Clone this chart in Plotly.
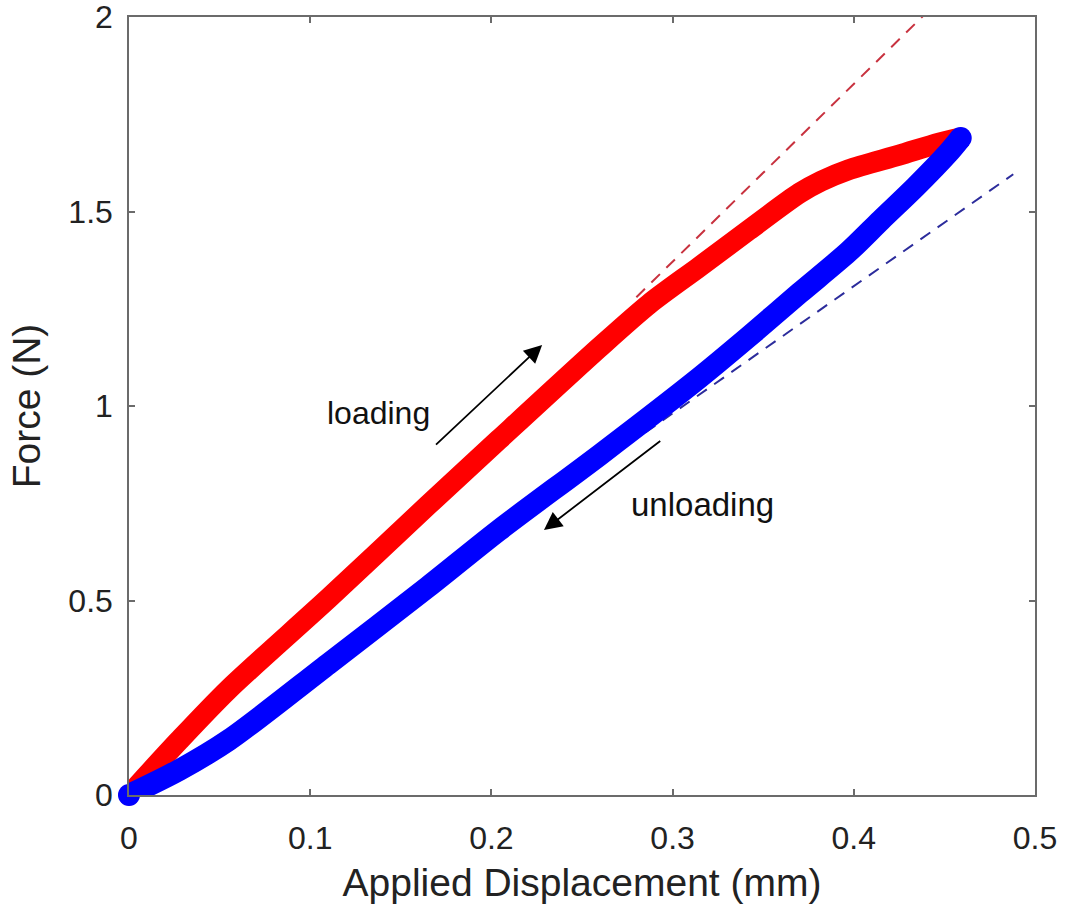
import plotly.graph_objects as go

# Loading curve (red)
load_x = [0.0, 0.0276, 0.055, 0.110, 0.165, 0.204, 0.2595, 0.287, 0.3146,
          0.342, 0.370, 0.382, 0.397, 0.425, 0.447, 0.459]
load_y = [0.0, 0.140, 0.272, 0.505, 0.745, 0.913, 1.150, 1.262, 1.357,
          1.452, 1.547, 1.578, 1.607, 1.645, 1.676, 1.689]

# Unloading curve (blue)
unload_x = [0.459, 0.452, 0.434, 0.415, 0.397, 0.370, 0.342, 0.3146, 0.260,
            0.204, 0.165, 0.110, 0.055, 0.0276, 0.0]
unload_y = [1.689, 1.650, 1.563, 1.478, 1.396, 1.290, 1.178, 1.072, 0.875,
            0.680, 0.535, 0.337, 0.141, 0.064, 0.0]

# Tangent (stiffness) lines: slope and x-extent
load_slope = 4.57
load_tan_x = [0.28, 0.45]
unload_slope = 3.27
unload_tan_x = [0.285, 0.488]

x_ticks = [0, 0.1, 0.2, 0.3, 0.4, 0.5]
x_ticklabels = ["0", "0.1", "0.2", "0.3", "0.4", "0.5"]
y_ticks = [0, 0.5, 1, 1.5, 2]
y_ticklabels = ["0", "0.5", "1", "1.5", "2"]

FONT = "Liberation Sans, Arial, Helvetica, sans-serif"
AXC = "#6b6b6b"


def end_sizes(n, s):
    return [s] + [0] * (n - 2) + [s]


fig = go.Figure()

fig.add_trace(go.Scatter(
    x=load_tan_x, y=[load_slope * v for v in load_tan_x], mode="lines",
    line=dict(color="#c8323f", width=2, dash="12px,9px"), showlegend=False))
fig.add_trace(go.Scatter(
    x=unload_tan_x, y=[unload_slope * v for v in unload_tan_x], mode="lines",
    line=dict(color="#2c2c9c", width=2, dash="12px,9px"), showlegend=False))

fig.add_trace(go.Scatter(
    x=load_x, y=load_y, mode="lines+markers",
    line=dict(color="#ff0000", width=21, shape="spline", smoothing=0.8),
    marker=dict(color="#ff0000", size=end_sizes(len(load_x), 21), opacity=1,
                line=dict(width=0)),
    cliponaxis=False, showlegend=False))
fig.add_trace(go.Scatter(
    x=unload_x, y=unload_y, mode="lines+markers",
    line=dict(color="#0000ff", width=22, shape="spline", smoothing=0.8),
    marker=dict(color="#0000ff", size=end_sizes(len(unload_x), 22), opacity=1,
                line=dict(width=0)),
    cliponaxis=False, showlegend=False))

# arrows and labels
fig.add_annotation(x=0.228, y=1.157, ax=0.1686, ay=0.897, xref="x", yref="y",
                   axref="x", ayref="y", text="", showarrow=True,
                   arrowhead=2, arrowsize=2.0, arrowwidth=1.8, arrowcolor="black")
fig.add_annotation(x=0.229, y=0.681, ax=0.294, ay=0.913, xref="x", yref="y",
                   axref="x", ayref="y", text="", showarrow=True,
                   arrowhead=2, arrowsize=2.0, arrowwidth=1.8, arrowcolor="black")
fig.add_annotation(x=0.1375, y=0.982, xref="x", yref="y", text="loading",
                   showarrow=False, font=dict(family=FONT, size=32, color="#111"),
                   xanchor="center", yanchor="middle")
fig.add_annotation(x=0.3165, y=0.748, xref="x", yref="y", text="unloading",
                   showarrow=False, font=dict(family=FONT, size=33, color="#111"),
                   xanchor="center", yanchor="middle")

axis_common = dict(
    showline=True, linecolor=AXC, linewidth=1.5, mirror="ticks",
    ticks="inside", ticklen=6, tickcolor=AXC, tickwidth=1.5,
    showgrid=False, zeroline=False, ticklabeloverflow="allow",
    tickfont=dict(family=FONT, size=32, color="#222"),
)

fig.update_xaxes(range=[0, 0.5], tickvals=x_ticks, ticktext=x_ticklabels,
                 title=dict(text="Applied Displacement (mm)",
                            font=dict(family=FONT, size=39, color="#222"),
                            standoff=14),
                 ticklabelstandoff=14, **axis_common)
fig.update_yaxes(range=[0, 2], tickvals=y_ticks, ticktext=y_ticklabels,
                 title=dict(text="Force (N)",
                            font=dict(family=FONT, size=39, color="#222"),
                            standoff=16),
                 ticklabelstandoff=8, **axis_common)

fig.update_layout(
    width=1067, height=915,
    margin=dict(l=129, r=32, t=17, b=120, autoexpand=False),
    plot_bgcolor="white", paper_bgcolor="white",
    font=dict(family=FONT),
)

fig.write_html("out.html")
